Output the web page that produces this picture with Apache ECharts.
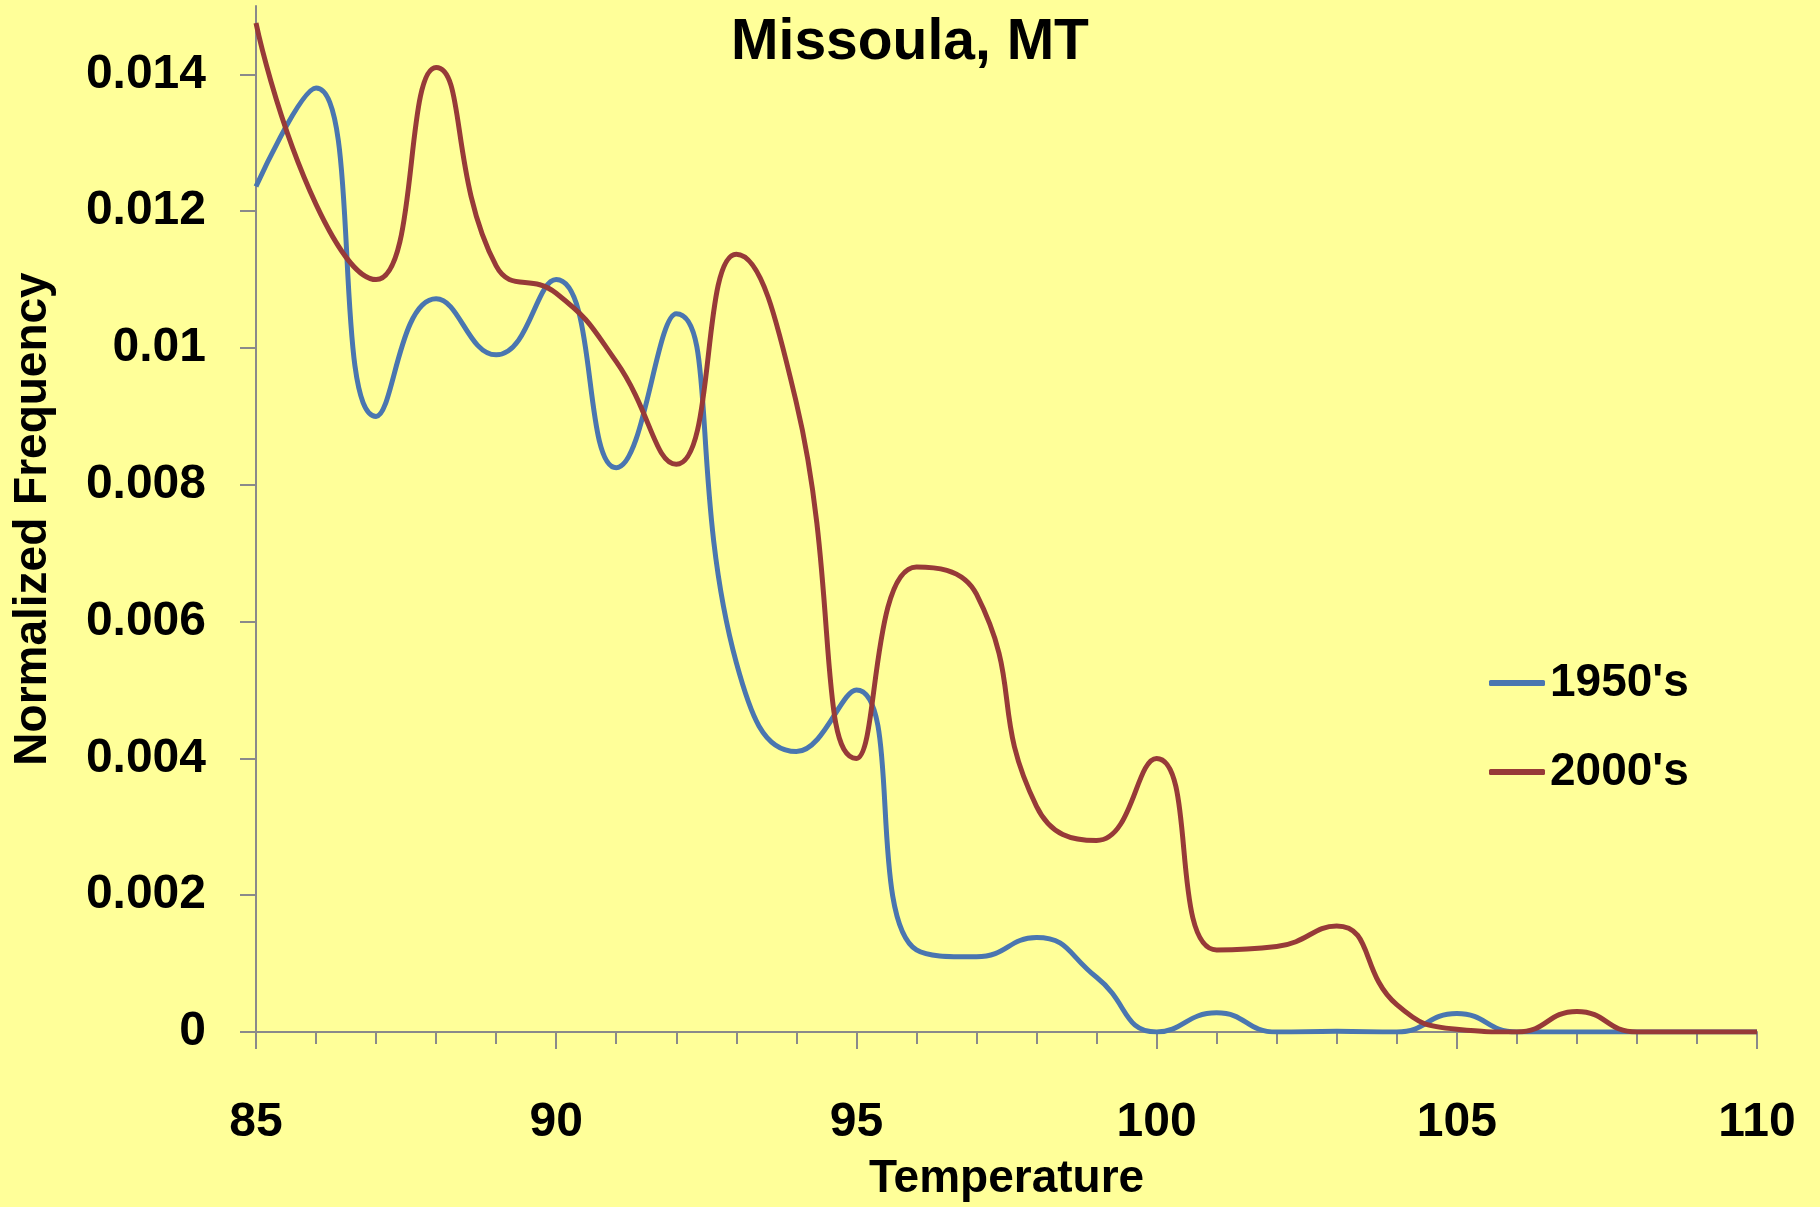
<!DOCTYPE html>
<html>
<head>
<meta charset="utf-8">
<script src="https://cdn.jsdelivr.net/npm/echarts@6/dist/echarts.min.js"></script>
<style>
html,body{margin:0;padding:0;background:#FFFF99;}
#chart{width:1820px;height:1207px;}
</style>
</head>
<body>
<div id="chart"></div>
<script>
const temperatures = [85,86,87,88,89,90,91,92,93,94,95,96,97,98,99,100,101,102,103,104,105,106,107,108,109,110];
const freq1950s = [0.01236,0.0138,0.0090,0.01072,0.0099,0.0110,0.00825,0.0105,0.0054,0.0041,0.0050,0.0012,0.0011,0.00138,0.0008,0,0.00028,0,0.00001,0,0.00027,0,0,0,0,0];
const freq2000s = [0.01475,0.0121,0.0110,0.0141,0.0112,0.0108,0.0098,0.0083,0.01137,0.0092,0.0040,0.0068,0.0064,0.0033,0.0028,0.0040,0.0012,0.00125,0.00155,0.0004,0.00004,0,0.0003,0,0,0];
const yTicks = [0,0.002,0.004,0.006,0.008,0.01,0.012,0.014];
const yTickLabels = ['0','0.002','0.004','0.006','0.008','0.01','0.012','0.014'];
const seriesNames = ["1950's","2000's"];

const FONT = 'Liberation Sans';
const axisColor = '#8a8a8a';
const pairs = (vals) => temperatures.map((t,i)=>[t, vals[i]]);

const chart = echarts.init(document.getElementById('chart'));
chart.setOption({
  backgroundColor: '#FFFF99',
  animation: false,
  title: {
    text: 'Missoula, MT', left: 'center', top: 15, padding: 0,
    textStyle: {fontFamily: FONT, fontWeight: 'bold', fontSize: 57, lineHeight: 57, color: '#000'}
  },
  legend: {
    orient: 'vertical', left: 1484, top: 655, itemGap: 43,
    itemWidth: 56, itemHeight: 6, icon: 'roundRect',
    textStyle: {fontFamily: FONT, fontWeight: 'bold', fontSize: 46, lineHeight: 46, color: '#000'},
    data: seriesNames
  },
  grid: {left: 256, right: 63, top: 6, bottom: 170.5, containLabel: false},
  xAxis: {
    type: 'value', min: 85, max: 110, interval: 5,
    name: 'Temperature', nameLocation: 'middle', nameGap: 124,
    nameTextStyle: {fontFamily: FONT, fontWeight: 'bold', fontSize: 46, lineHeight: 46, color: '#000'},
    axisLine: {show: true, onZero: false, lineStyle: {color: axisColor, width: 2}},
    axisTick: {show: true, length: 17, lineStyle: {color: axisColor, width: 2}},
    minorTick: {show: true, splitNumber: 5, length: 12, lineStyle: {color: axisColor, width: 2}},
    splitLine: {show: false},
    axisLabel: {fontFamily: FONT, fontWeight: 'bold', fontSize: 48, lineHeight: 48, color: '#000', margin: 67}
  },
  yAxis: {
    type: 'value', min: 0, max: 0.015,
    name: 'Normalized Frequency', nameLocation: 'middle', nameGap: 200, nameRotate: 90,
    nameTextStyle: {fontFamily: FONT, fontWeight: 'bold', fontSize: 46, lineHeight: 46, color: '#000'},
    axisLine: {show: true, lineStyle: {color: axisColor, width: 2}},
    axisTick: {show: true, length: 16, customValues: yTicks, lineStyle: {color: axisColor, width: 2}},
    splitLine: {show: false},
    axisLabel: {
      customValues: yTicks,
      formatter: (v) => { const i = yTicks.findIndex(t => Math.abs(t - v) < 1e-9); return i >= 0 ? yTickLabels[i] : ''; },
      fontFamily: FONT, fontWeight: 'bold', fontSize: 48, lineHeight: 48, color: '#000', margin: 50
    }
  },
  series: [
    {name: seriesNames[0], type: 'line', data: pairs(freq1950s), smooth: 0.5, showSymbol: false, symbol: 'none',
     lineStyle: {color: '#4a76b0', width: 5}, itemStyle: {color: '#4a76b0'}},
    {name: seriesNames[1], type: 'line', data: pairs(freq2000s), smooth: 0.5, showSymbol: false, symbol: 'none',
     lineStyle: {color: '#973a38', width: 5}, itemStyle: {color: '#973a38'}}
  ]
});
</script>
</body>
</html>
